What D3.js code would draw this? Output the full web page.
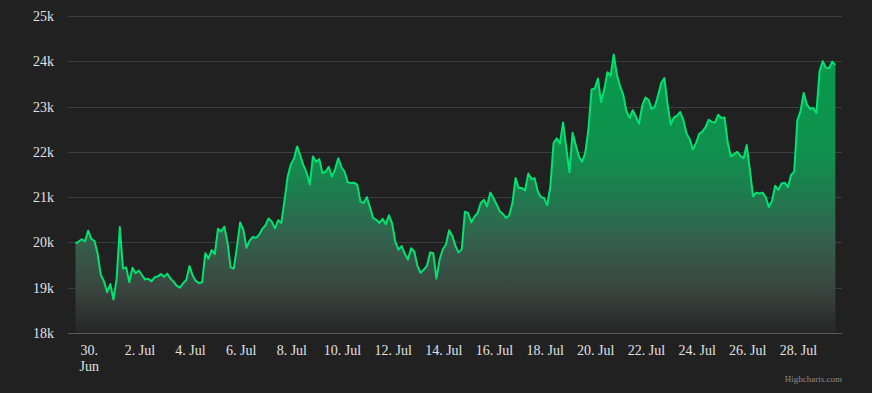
<!DOCTYPE html>
<html>
<head>
<meta charset="utf-8">
<script src="https://cdn.jsdelivr.net/npm/d3@7"></script>
<style>
  html, body { margin: 0; padding: 0; background: #212121; }
  svg { display: block; }
</style>
</head>
<body>
<script>
var width = 872;
var height = 393;

// BTC price, one value every 3 hours starting 29 Jun 2022 11:00 UTC
var startTime = "2022-06-29T11:00:00Z";
var stepHours = 3;
var prices = [
  19980, 20020, 20070, 20020, 20260, 20080, 20030, 19750, 19280, 19140,
  18900, 19080, 18740, 19200, 20340, 19420, 19450, 19120, 19440, 19320,
  19380, 19280, 19180, 19200, 19140, 19230, 19250, 19300, 19240, 19310,
  19200, 19130, 19040, 19000, 19100, 19170, 19480, 19270, 19150, 19100,
  19120, 19760, 19640, 19830, 19740, 20300, 20240, 20350, 20000, 19450,
  19420, 19900, 20440, 20280, 19880, 20040, 20120, 20100, 20170, 20300,
  20380, 20530, 20460, 20310, 20490, 20430, 20920, 21450, 21720, 21850,
  22120, 21920, 21700, 21540, 21280, 21900, 21780, 21840, 21530, 21560,
  21670, 21450, 21620, 21860, 21660, 21560, 21330, 21310, 21320, 21270,
  20900, 20870, 21000, 20780, 20540, 20500, 20430, 20520, 20400, 20600,
  20420, 20020, 19840, 19920, 19750, 19620, 19870, 19800, 19480, 19330,
  19400, 19480, 19780, 19760, 19200, 19620, 19850, 19950, 20270, 20150,
  19920, 19780, 19850, 20680, 20650, 20440, 20570, 20650, 20870, 20940,
  20800, 21100, 20980, 20840, 20690, 20630, 20540, 20600, 20870, 21420,
  21200, 21200, 21150, 21520, 21400, 21420, 21130, 21000, 20980, 20820,
  21250, 22200, 22300, 22180, 22650, 22100, 21550, 22420, 22150, 21900,
  21780, 21980, 22500, 23380, 23400, 23620, 23100, 23380, 23760, 23680,
  24150, 23700, 23450, 23260, 22900, 22750, 22920, 22780, 22620, 23020,
  23200, 23150, 22950, 23000, 23250, 23520, 23630, 23050, 22600, 22760,
  22800, 22880, 22700, 22400, 22280, 22050, 22200, 22400, 22450, 22550,
  22710, 22660, 22650, 22820, 22750, 22760, 22200, 21900, 21950, 22000,
  21910, 21860, 22150, 21600, 21020, 21100, 21080, 21100, 21000, 20780,
  20920, 21250, 21160, 21300, 21320, 21220, 21490, 21560, 22700, 22900,
  23300, 23050, 22950, 22970, 22860, 23780, 24000, 23860, 23850, 23990,
  23920
];
var yTicks = [18000, 19000, 20000, 21000, 22000, 23000, 24000, 25000];
var xTickDays = ["2022-06-30", "2022-07-02", "2022-07-04", "2022-07-06", "2022-07-08",
  "2022-07-10", "2022-07-12", "2022-07-14", "2022-07-16", "2022-07-18",
  "2022-07-20", "2022-07-22", "2022-07-24", "2022-07-26", "2022-07-28"];

var plot = { left: 68, right: 842, top: 16, bottom: 333 };

var t0 = new Date(startTime);
var data = prices.map(function(p, i) {
  return { date: new Date(t0.getTime() + i * stepHours * 3600000), value: p };
});

var x = d3.scaleUtc()
  .domain([new Date("2022-06-29T03:54:00Z"), new Date("2022-07-29T17:17:00Z")])
  .range([plot.left, plot.right]);
var y = d3.scaleLinear()
  .domain([18000, 25000])
  .range([plot.bottom, plot.top]);

var svg = d3.select("body").append("svg")
  .attr("width", width)
  .attr("height", height)
  .attr("viewBox", "0 0 " + width + " " + height);

svg.append("rect")
  .attr("width", width).attr("height", height)
  .attr("fill", "#212121");

// area gradient, green at the top fading to grey at the axis
var grad = svg.append("defs").append("linearGradient")
  .attr("id", "areaFill")
  .attr("gradientUnits", "userSpaceOnUse")
  .attr("x1", 0).attr("x2", 0)
  .attr("y1", y(24200)).attr("y2", plot.bottom);
[[0, "#069b4c"], [0.36, "#0f904d"], [0.52, "#21794f"], [0.68, "#365e4c"],
 [0.84, "#3a4540"], [1, "#262626"]].forEach(function(s) {
  grad.append("stop").attr("offset", s[0]).attr("stop-color", s[1]);
});

// horizontal grid lines
svg.append("g").selectAll("line")
  .data(yTicks)
  .join("line")
  .attr("x1", plot.left).attr("x2", plot.right)
  .attr("y1", function(d) { return Math.round(y(d)) + 0.5; })
  .attr("y2", function(d) { return Math.round(y(d)) + 0.5; })
  .attr("stroke", function(d) { return d === 18000 ? "#58585a" : "#3c3c3e"; })
  .attr("stroke-width", 1);

// y labels
svg.append("g").selectAll("text")
  .data(yTicks)
  .join("text")
  .attr("x", 54)
  .attr("y", function(d) { return y(d) + 5; })
  .attr("text-anchor", "end")
  .attr("fill", "#e0e0e3")
  .attr("font-family", "'Liberation Serif', 'DejaVu Serif', serif")
  .attr("font-size", 14)
  .text(function(d) { return (d / 1000) + "k"; });

// area + line
svg.append("path")
  .datum(data)
  .attr("fill", "url(#areaFill)")
  .attr("d", d3.area()
    .x(function(d) { return x(d.date); })
    .y0(plot.bottom)
    .y1(function(d) { return y(d.value); }));

svg.append("path")
  .datum(data)
  .attr("fill", "none")
  .attr("stroke", "#00e272")
  .attr("stroke-width", 2)
  .attr("stroke-linejoin", "round")
  .attr("d", d3.line()
    .x(function(d) { return x(d.date); })
    .y(function(d) { return y(d.value); }));

// x labels, the first one wraps onto two lines
var fmt = d3.utcFormat("%-d. %b");
var xl = svg.append("g").selectAll("text")
  .data(xTickDays.map(function(s) { return new Date(s + "T00:00:00Z"); }))
  .join("text")
  .attr("x", function(d) { return x(d); })
  .attr("y", 355)
  .attr("text-anchor", "middle")
  .attr("fill", "#e0e0e3")
  .attr("font-family", "'Liberation Serif', 'DejaVu Serif', serif")
  .attr("font-size", 14);
xl.each(function(d, i) {
  var t = d3.select(this);
  var parts = fmt(d).split(" ");
  if (i === 0) {
    t.append("tspan").attr("x", x(d)).text(parts[0]);
    t.append("tspan").attr("x", x(d)).attr("dy", 16).text(parts[1]);
  } else {
    t.text(fmt(d));
  }
});

svg.append("text")
  .attr("x", plot.right)
  .attr("y", 382)
  .attr("text-anchor", "end")
  .attr("fill", "#8a8a8d")
  .attr("font-family", "'Liberation Serif', 'DejaVu Serif', serif")
  .attr("font-size", 9)
  .text("Highcharts.com");
</script>
</body>
</html>
